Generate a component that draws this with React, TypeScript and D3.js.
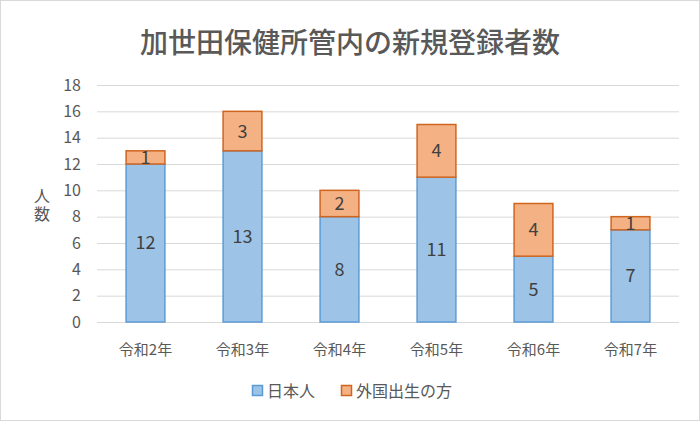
import React from "react";
import * as d3 from "d3";

const categories = ["令和2年", "令和3年", "令和4年", "令和5年", "令和6年", "令和7年"];
const japanese = [12, 13, 8, 11, 5, 7];
const foreign = [1, 3, 2, 4, 4, 1];
const seriesNames = ["日本人", "外国出生の方"];
const yTicks = [0, 2, 4, 6, 8, 10, 12, 14, 16, 18];
const yAxisTitle = "人数";

const W = 700, H = 421;
const FONT = "'Noto Sans CJK JP', 'Noto Sans', sans-serif";

export default function App() {
  const x = d3.scaleBand<string>().domain(categories).range([97, 679]).paddingInner(0.6).paddingOuter(0.3);
  const y = d3.scaleLinear().domain([0, 18]).range([322, 85]);
  const fills = ["#9DC3E6", "#F4B183"];
  const strokes = ["#5B9BD5", "#D0651F"];
  const rows = categories.map((c, i) => ({ c, a: japanese[i], b: foreign[i] }));
  const stack = d3.stack<any>().keys(["a", "b"])(rows);

  return (
    <svg width={W} height={H} style={{ position: "absolute", left: 0, top: 0, background: "#fff" }} fontFamily={FONT}>
      <rect x={0.5} y={0.5} width={W - 1} height={H - 1} fill="#fff" stroke="#D9D9D9" />
      <text x={350} y={53} textAnchor="middle" fontSize={28} fill="#595959" fontWeight={500}>加世田保健所管内の新規登録者数</text>
      {yTicks.map(t => (
        <g key={t}>
          <line x1={97} x2={679} y1={y(t) + 0.5} y2={y(t) + 0.5} stroke="#D9D9D9" strokeWidth={1} />
          <text x={81} y={y(t)} dy="0.35em" textAnchor="end" fontSize={16} fill="#595959">{t}</text>
        </g>
      ))}
      <text x={42} y={206} textAnchor="middle" fontSize={16} fill="#595959"
        style={{ writingMode: "vertical-rl" }} letterSpacing={2}>{yAxisTitle}</text>
      {stack.map((s, si) => (
        <g key={si}>
          {s.map((d, i) => (
            <g key={i}>
              <rect x={x(categories[i])!} y={y(d[1])} width={x.bandwidth()} height={y(d[0]) - y(d[1])}
                fill={fills[si]} stroke={strokes[si]} strokeWidth={1.5} />
              <text x={x(categories[i])! + x.bandwidth() / 2} y={(y(d[0]) + y(d[1])) / 2} dy="0.36em"
                textAnchor="middle" fontSize={18} fill="#404040">{d[1] - d[0]}</text>
            </g>
          ))}
        </g>
      ))}
      {categories.map(c => (
        <text key={c} x={x(c)! + x.bandwidth() / 2} y={350} dy="0.35em" textAnchor="middle" fontSize={15} fill="#595959">{c}</text>
      ))}
      <g>
        <rect x={252.5} y={385.5} width={10} height={10} fill={fills[0]} stroke={strokes[0]} strokeWidth={1.5} />
        <text x={267} y={391} dy="0.35em" fontSize={16} fill="#595959">{seriesNames[0]}</text>
        <rect x={341.5} y={385.5} width={10} height={10} fill={fills[1]} stroke={strokes[1]} strokeWidth={1.5} />
        <text x={356} y={391} dy="0.35em" fontSize={16} fill="#595959">{seriesNames[1]}</text>
      </g>
    </svg>
  );
}
